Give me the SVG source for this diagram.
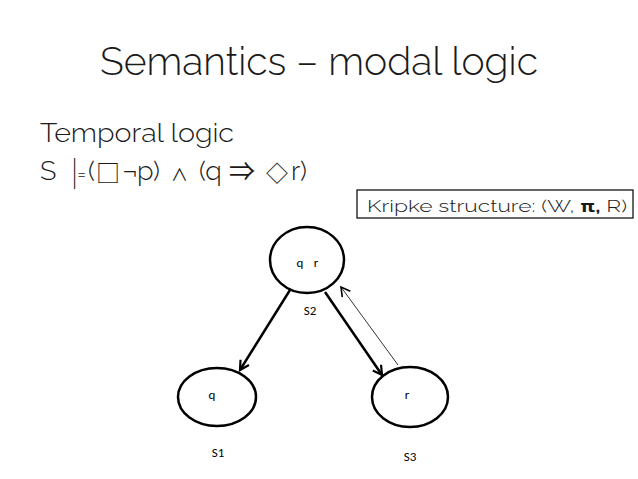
<svg xmlns="http://www.w3.org/2000/svg" width="638" height="479" viewBox="0 0 638 479">
<defs>
<style>
.head{font-family:Raleway,Lato,"Open Sans","Liberation Sans",sans-serif;font-weight:300;fill:#1a1a1a}
.sym{font-family:"Noto Sans CJK JP","DejaVu Sans",sans-serif;font-weight:normal}
.lbl{font-family:Carlito,Calibri,"Liberation Sans",sans-serif;font-size:13px;fill:#000}
.node{fill:#fff;stroke:#000;stroke-width:2.5}
.edge{stroke:#000;stroke-width:2.5;fill:none}
.thin{stroke:#000;stroke-width:0.8;fill:none}
</style>
<marker id="ah" viewBox="0 0 12 12" refX="10" refY="6" markerWidth="12" markerHeight="12" markerUnits="userSpaceOnUse" orient="auto">
<path d="M1,1 L10,6 L1,11" fill="none" stroke="#000" stroke-width="2.2"/>
</marker>
<marker id="ah2" viewBox="0 0 12 12" refX="10" refY="6" markerWidth="12" markerHeight="12" markerUnits="userSpaceOnUse" orient="auto">
<path d="M1,1 L10,6 L1,11" fill="none" stroke="#000" stroke-width="1.6"/>
</marker>
</defs>
<rect width="638" height="479" fill="#fff"/>
<text class="head" x="100" y="75" font-size="39" textLength="438" lengthAdjust="spacingAndGlyphs">Semantics – modal logic</text>
<text class="head" x="40" y="142" font-size="27" textLength="194" lengthAdjust="spacingAndGlyphs">Temporal logic</text>
<g id="formula">
<text class="head" font-size="27" y="180"><tspan x="40">S</tspan><tspan x="71" y="185" font-size="33" font-weight="200">|</tspan><tspan class="sym" x="78" y="180" font-size="13">=</tspan><tspan x="88" y="180">(</tspan><tspan class="sym" x="96" y="182" font-size="24">□</tspan><tspan x="122" y="180">¬</tspan><tspan x="137">p)</tspan><tspan class="sym" x="171" y="181" font-size="17">∧</tspan><tspan x="199" y="180">(q</tspan><tspan class="sym" x="229" y="181" font-size="26" font-weight="300">⇒</tspan><tspan class="sym" x="266" y="181" font-size="22">◇</tspan><tspan x="291" y="180">r)</tspan></text>
</g>
<g id="kripke">
<rect x="357" y="190" width="276" height="28" fill="#fff" stroke="#000" stroke-width="1.2"/>
<text class="head" x="367" y="212" font-size="17" textLength="260" lengthAdjust="spacingAndGlyphs">Kripke structure:  (W, <tspan font-weight="bold">π,</tspan> R)</text>
</g>
<g id="connectors">
<line class="edge" x1="290" y1="290" x2="240" y2="370" marker-end="url(#ah)"/>
<line class="edge" x1="325" y1="292" x2="382" y2="375" marker-end="url(#ah)"/>
<line class="thin" x1="398" y1="365" x2="341" y2="287" marker-end="url(#ah2)"/>
</g>
<g id="S2">
<ellipse class="node" cx="307" cy="260" rx="37" ry="33"/>
<text class="lbl" x="300" y="267" text-anchor="middle">q</text>
<text class="lbl" x="316" y="267" text-anchor="middle">r</text>
<text class="lbl" x="310" y="315" text-anchor="middle">S2</text>
</g>
<g id="S1">
<ellipse class="node" cx="217" cy="397" rx="39" ry="29"/>
<text class="lbl" x="212" y="399" text-anchor="middle">q</text>
<text class="lbl" x="218" y="457" text-anchor="middle">S1</text>
</g>
<g id="S3">
<ellipse class="node" cx="410" cy="397" rx="38" ry="30"/>
<text class="lbl" x="407" y="399" text-anchor="middle">r</text>
<text class="lbl" x="410" y="461" text-anchor="middle">S3</text>
</g>
</svg>
